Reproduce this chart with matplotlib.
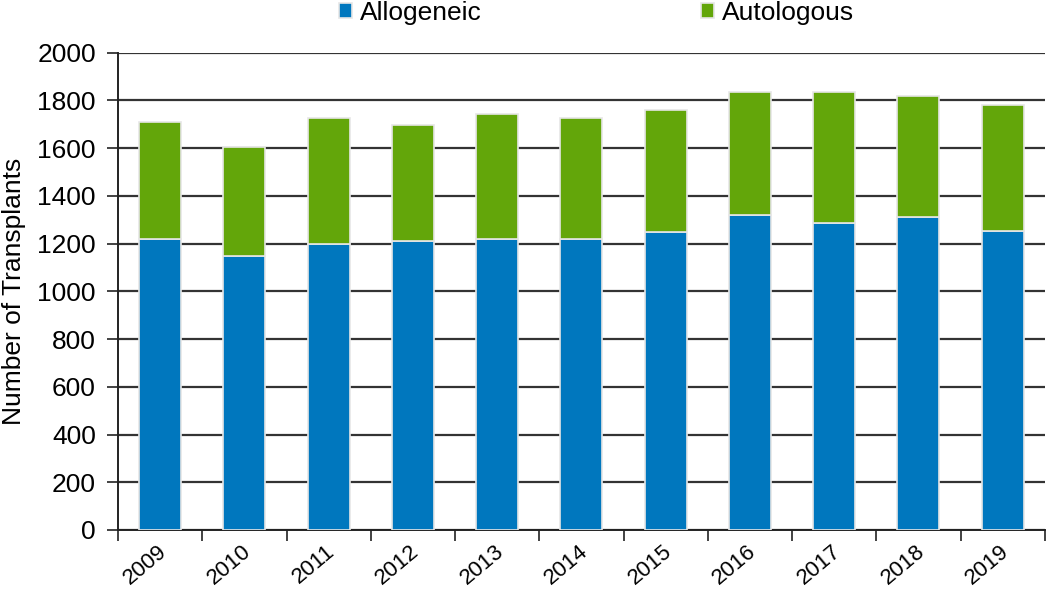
import matplotlib
matplotlib.use("Agg")
import matplotlib.pyplot as plt
import matplotlib.transforms as mtransforms
import numpy as np

years = ["2009", "2010", "2011", "2012", "2013", "2014", "2015", "2016", "2017", "2018", "2019"]
allogeneic = [1221, 1148, 1200, 1211, 1219, 1219, 1250, 1322, 1286, 1310, 1254]
totals = [1710, 1604, 1726, 1699, 1745, 1726, 1759, 1836, 1836, 1819, 1780]
autologous = [t - a for t, a in zip(totals, allogeneic)]

plt.rcParams['font.family'] = ['Liberation Sans', 'DejaVu Sans']

fig = plt.figure(figsize=(10.5, 5.89), dpi=100)
ax = fig.add_axes([0.1124, 0.1002, 0.8826, 0.8103])

x = np.arange(len(years))
blue = '#0077be'
green = '#63a60a'
b1 = ax.bar(x, allogeneic, width=0.5, color=blue, edgecolor='#e6e6e6', linewidth=1.2, zorder=3, label='Allogeneic')
b2 = ax.bar(x, autologous, bottom=allogeneic, width=0.5, color=green, edgecolor='#e6e6e6', linewidth=1.2, zorder=3, label='Autologous')

ax.set_ylim(0, 2000)
ax.set_xlim(-0.5, len(years) - 0.5)
ax.set_yticks(np.arange(0, 2001, 200))
ax.yaxis.grid(True, color='#333333', linewidth=1.6, zorder=0)
ax.set_axisbelow(True)

ax.set_xticks(x)
ax.set_xticklabels(years)
ax.set_xticks(np.arange(-0.5, len(years), 1), minor=True)
ax.tick_params(axis='x', which='major', length=0, pad=8, labelsize=16, labelrotation=40)
ax.tick_params(axis='x', which='minor', length=8, width=1.2, direction='out', color='#222222')
ax.tick_params(axis='y', length=8, width=1.2, direction='out', labelsize=19, color='#222222', pad=8)

offset = mtransforms.ScaledTranslation(-3 / 100, 0, fig.dpi_scale_trans)
for lbl in ax.get_xticklabels():
    lbl.set_horizontalalignment('right')
    lbl.set_verticalalignment('top')
    lbl.set_rotation_mode('anchor')
    lbl.set_transform(lbl.get_transform() + offset)

for s in ['top', 'right']:
    ax.spines[s].set_visible(False)
for s in ['left', 'bottom']:
    ax.spines[s].set_color('#222222')
    ax.spines[s].set_linewidth(1.4)

ax.set_ylabel('Number of Transplants', fontsize=19, labelpad=8)

fig.legend(handles=[b1, b2], labels=['Allogeneic', 'Autologous'], loc='center', bbox_to_anchor=(0.568, 0.978),
           ncol=2, frameon=False, fontsize=19, handlelength=0.5, handleheight=0.5, handletextpad=0.3, columnspacing=8.3)

fig.savefig('out.png', dpi=100)
